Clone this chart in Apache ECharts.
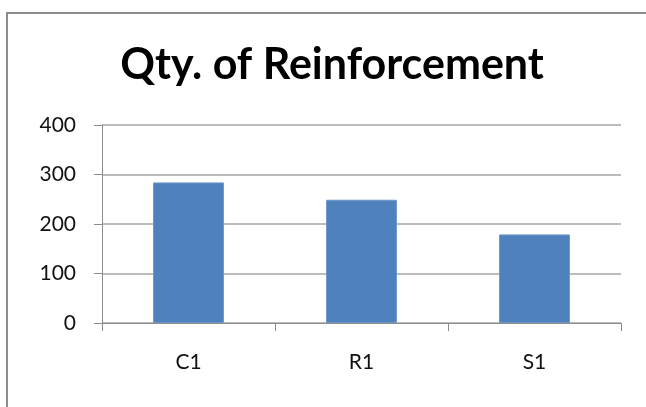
<!DOCTYPE html>
<html>
<head>
<meta charset="utf-8">
<script src="https://cdn.jsdelivr.net/npm/echarts@6/dist/echarts.min.js"></script>
<style>
html,body{margin:0;padding:0;background:#fff;}
#c{width:646px;height:407px;}
</style>
</head>
<body>
<div id="c"></div>
<script>
var titleText = "Qty. of Reinforcement";
var categories = ["C1", "R1", "S1"];
var values = [284, 249, 179];
var yTicks = [0, 100, 200, 300, 400];

var chart = echarts.init(document.getElementById('c'), null, {renderer: 'canvas'});
var option = {
  animation: false,
  backgroundColor: '#fff',
  title: {
    text: titleText,
    left: 327, textAlign: 'center',
    top: 39,
    textStyle: {fontFamily: 'Lato', fontWeight: 'bold', fontSize: 43, color: '#000'}
  },
  graphic: [{
    type: 'rect', shape: {x: 7, y: 13, width: 1200, height: 1000},
    style: {fill: 'none', stroke: '#8c8c8c', lineWidth: 2}, silent: true
  }],
  grid: {left: 102, right: 25, top: 125, bottom: 84, containLabel: false},
  xAxis: {
    type: 'category', data: categories,
    axisLine: {lineStyle: {color: '#8c8c8c', width: 1}},
    axisTick: {show: true, length: 8, lineStyle: {color: '#8c8c8c'}},
    axisLabel: {margin: 29, fontFamily: 'Lato', fontSize: 21, color: '#111'}
  },
  yAxis: {
    type: 'value', min: yTicks[0], max: yTicks[yTicks.length - 1], interval: 100,
    axisLine: {show: true, lineStyle: {color: '#8c8c8c', width: 1}},
    axisTick: {show: true, length: 8, lineStyle: {color: '#8c8c8c'}},
    axisLabel: {margin: 26, fontFamily: 'Lato', fontSize: 21, color: '#111'},
    splitLine: {lineStyle: {color: '#a6a6a6', width: 1.5}}
  },
  series: [{
    type: 'bar', data: values, barWidth: '41%',
    itemStyle: {color: '#4F81BD', borderColor: '#6e97c9', borderWidth: 1}
  }]
};
chart.setOption(option);
</script>
</body>
</html>
